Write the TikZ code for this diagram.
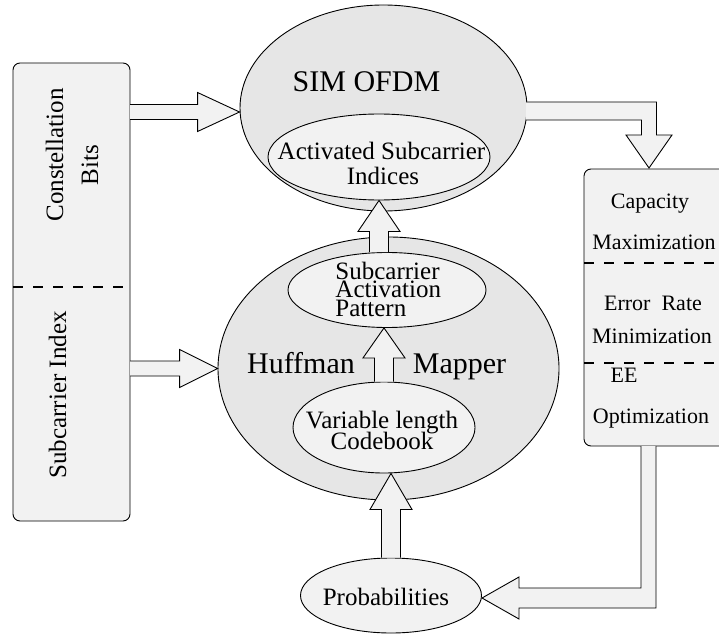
\documentclass[tikz,border=0pt]{standalone}
\usepackage{fontspec}
\setmainfont{Liberation Serif}
\usetikzlibrary{shapes.geometric,calc}
\definecolor{outerfill}{RGB}{230,230,230}
\definecolor{innerfill}{RGB}{242,242,242}
\tikzset{
  outerell/.style={ellipse, draw, fill=outerfill, inner sep=0pt},
  innerell/.style={ellipse, draw, fill=innerfill, inner sep=0pt},
  sidebox/.style={draw, fill=innerfill, rounded corners=7pt},
  barrow/.style={draw, fill=innerfill, line join=miter},
  sep/.style={line width=2pt, dash pattern=on 10pt off 10pt},
  big/.style={font=\fontsize{30}{36}\selectfont, inner sep=0pt, anchor=base},
  mid/.style={font=\fontsize{25}{30}\selectfont, inner sep=0pt, anchor=base},
  small/.style={font=\fontsize{22}{26}\selectfont, inner sep=0pt, anchor=base},
}
\newcommand\blockarrow[5]{%
  \coordinate (ba-s) at (#1);
  \coordinate (ba-t) at (#2);
  \coordinate (ba-b) at ($(ba-t)!#5pt!(ba-s)$);
  \filldraw[barrow] ($(ba-s)!#3pt!90:(ba-t)$) -- ($(ba-b)!#3pt!90:(ba-t)$)
    -- ($(ba-b)!#4pt!90:(ba-t)$) -- (ba-t) -- ($(ba-b)!#4pt!-90:(ba-t)$)
    -- ($(ba-b)!#3pt!-90:(ba-t)$) -- ($(ba-s)!#3pt!-90:(ba-t)$);
}
\begin{document}
\begin{tikzpicture}[x=1pt, y=-1pt, line width=0.9pt]
\useasboundingbox (0,0) rectangle (719,639);
\fill[white] (0,0) rectangle (719,639);

% side boxes
\draw[sidebox] (13,63) rectangle (130,521);
\coordinate (lbox) at (130,292);
\draw[sep] (13,287) -- (130,287);
\draw[sidebox] (584,169) rectangle (730,446);
\draw[sep] (584,263) -- (719,263);
\draw[sep] (584,363) -- (719,363);

% ellipses
\node[outerell, minimum width=287pt, minimum height=206pt] (sim) at (383.5,108) {};
\node[innerell, minimum width=222pt, minimum height=86pt] (ind) at (379,157) {};
\node[outerell, minimum width=341pt, minimum height=263pt] (huff) at (388.5,368.5) {};
\node[innerell, minimum width=198pt, minimum height=75pt] (pat) at (387,290) {};
\node[innerell, minimum width=182pt, minimum height=91pt] (cb) at (384,427.5) {};
\node[innerell, minimum width=181pt, minimum height=75pt] (prob) at (391,595.5) {};

% straight block arrows
\coordinate (t1) at ($(sim.west)+(0,4)$);
\blockarrow{lbox |- t1}{t1}{7.5}{19.5}{42}
\blockarrow{lbox |- huff.west}{huff.west}{7.5}{19}{38}
\blockarrow{ind.south |- pat.north}{ind.south}{9.5}{21}{31}
\blockarrow{cb.north}{cb.north |- pat.south}{9.5}{21}{30}
\blockarrow{prob.north}{prob.north |- cb.south}{9.5}{21}{36}

% elbow block arrows
\filldraw[barrow] (526,120) -- (641.5,120) -- (641.5,135) -- (626,135) -- (649,168)
  -- (672,135) -- (656.5,135) -- (656.5,102) -- (526,102);
\filldraw[barrow] (641,446) -- (641,588) -- (519,588) -- (519,577) -- (482,598)
  -- (519,619) -- (519,608) -- (656,608) -- (656,446);

% texts
\node[mid, rotate=90] (t-const) at (63,155) {Constellation};
\node[mid, rotate=90] (t-bits) at (98,165) {Bits};
\node[mid, rotate=90] (t-sidx) at (66,395) {Subcarrier Index};

\node[big] (t-sim) at (366.5,92) {SIM OFDM};
\node[mid] (t-ind1) at (381.5,159.5) {Activated Subcarrier};
\node[mid] (t-ind2) at (383,184) {Indices};
\node[mid, anchor=base west] (t-pat1) at (335,279) {Subcarrier};
\node[mid, anchor=base west] (t-pat2) at (335,297.5) {Activation};
\node[mid, anchor=base west] (t-pat3) at (335,316) {Pattern};
\node[big] (t-huff) at (301,373) {Huffman};
\node[big] (t-map) at (459.5,373) {Mapper};
\node[mid] (t-cb1) at (382,428) {Variable length};
\node[mid] (t-cb2) at (382,449) {Codebook};
\node[mid] (t-prob) at (386,605) {Probabilities};

\node[small] (t-cap) at (650,208) {Capacity};
\node[small] (t-max) at (654,249) {Maximization};
\node[small] (t-err) at (653,310) {Error~~Rate};
\node[small] (t-min) at (652,343) {Minimization};
\node[small] (t-ee) at (624,382) {EE};
\node[small] (t-opt) at (651,423) {Optimization};
\end{tikzpicture}
\end{document}
